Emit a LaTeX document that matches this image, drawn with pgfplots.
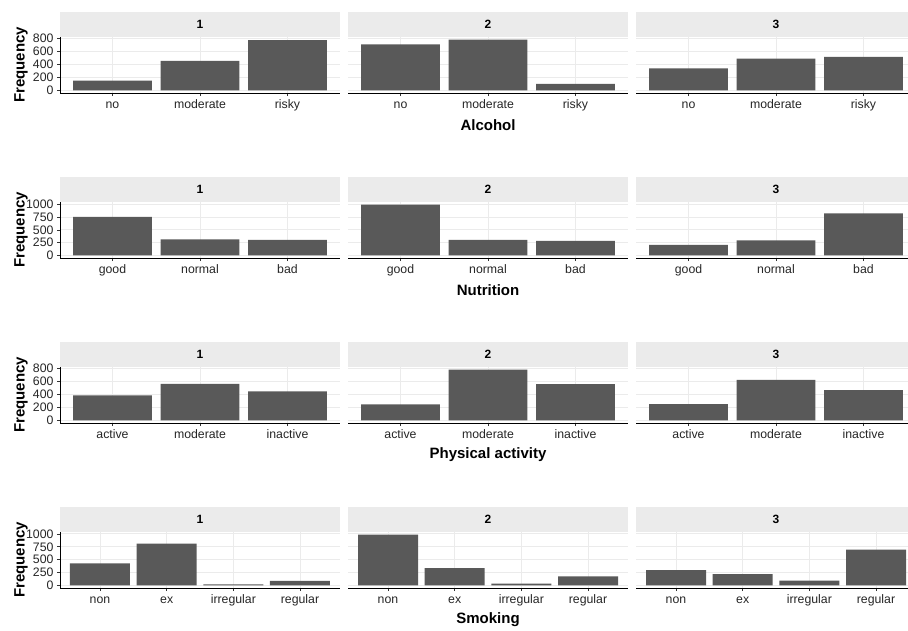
\documentclass[border=0pt]{standalone}
\usepackage{fontspec}
\setmainfont{Liberation Sans}
\usepackage{pgfplots}
\pgfplotsset{compat=1.18}
\definecolor{barcol}{HTML}{595959}
\definecolor{stripgray}{HTML}{EBEBEB}
\definecolor{gridgray}{HTML}{EBEBEB}
\pgfplotsset{
 panel/.style={scale only axis, width=280pt, height=56pt, anchor=north west,
   ybar, bar width=0.9, bar shift=0pt,
   axis x line*=bottom, axis y line*=left,
   axis line style={-, black, line width=0.9pt},
   xmajorgrids, ymajorgrids, major grid style={draw=gridgray, line width=0.9pt},
   tick align=outside, major tick length=3pt, tick style={black!80, line width=0.7pt},
   ticklabel style={font=\fontsize{12.3}{14}\selectfont, text=black!85},
   xticklabel style={text height=1.6ex, text depth=0.3ex, yshift=-0.5pt},
   /pgf/number format/assume math mode=true, /pgf/number format/1000 sep={},
 },
 noy/.style={y axis line style={draw=none}, yticklabels={}, ytick style={draw=none}},
 rowA/.style={ymin=-39, ymax=819, ytick={0,200,400,600,800}, xmin=0.4, xmax=3.6, xtick={1,2,3}, xticklabels={no,moderate,risky}},
 rowB/.style={ymin=-49.7, ymax=1043.7, ytick={0,250,500,750,1000}, xmin=0.4, xmax=3.6, xtick={1,2,3}, xticklabels={good,normal,bad}},
 rowC/.style={ymin=-39, ymax=819, ytick={0,200,400,600,800}, xmin=0.4, xmax=3.6, xtick={1,2,3}, xticklabels={active,moderate,inactive}},
 rowD/.style={ymin=-49.35, ymax=1036.35, ytick={0,250,500,750,1000}, xmin=0.4, xmax=4.6, xtick={1,2,3,4}, xticklabels={non,ex,irregular,regular}},
}
\newcommand{\panel}[5]{%
 \fill[stripgray] (#1pt,{-(#2-25)*1pt}) rectangle ({(#1+280)*1pt},-#2pt);
 \node[font=\fontsize{12}{14}\selectfont\bfseries] at ({(#1+140)*1pt},{-(#2-12.5)*1pt}) {#3};
 \begin{axis}[panel, at={(#1pt,-#2pt)}, #4]
 \addplot[fill=barcol, draw=none] coordinates {#5};
 \end{axis}
}
\begin{document}
\begin{tikzpicture}
\path[use as bounding box] (0pt,0pt) rectangle (908pt,-630pt);
\clip (0pt,0pt) rectangle (908pt,-630pt);
% Row 1: Alcohol
\panel{60}{37}{1}{rowA}{(1,151) (2,453) (3,770)}
\panel{348}{37}{2}{rowA,noy}{(1,705) (2,780) (3,101)}
\panel{636}{37}{3}{rowA,noy}{(1,337) (2,488) (3,513)}
% Row 2: Nutrition
\panel{60}{202}{1}{rowB}{(1,755) (2,315) (3,302)}
\panel{348}{202}{2}{rowB,noy}{(1,994) (2,302) (3,283)}
\panel{636}{202}{3}{rowB,noy}{(1,208) (2,296) (3,824)}
% Row 3: Physical activity
\panel{60}{367}{1}{rowC}{(1,385) (2,561) (3,445)}
\panel{348}{367}{2}{rowC,noy}{(1,246) (2,780) (3,555)}
\panel{636}{367}{3}{rowC,noy}{(1,250) (2,620) (3,465)}
% Row 4: Smoking
\panel{60}{532}{1}{rowD}{(1,430) (2,810) (3,20) (4,90)}
\panel{348}{532}{2}{rowD,noy}{(1,987) (2,335) (3,38) (4,177)}
\panel{636}{532}{3}{rowD,noy}{(1,298) (2,222) (3,95) (4,696)}
% titles
\foreach \t/\y in {Alcohol/125, Nutrition/290, Physical activity/455, Smoking/620}{
  \node[font=\fontsize{15}{17}\selectfont\bfseries] at (488pt,-\y pt) {\t};
}
\foreach \y in {65,230,395,560}{
  \node[font=\fontsize{15}{17}\selectfont\bfseries, rotate=90] at (21pt,-\y pt) {Frequency};
}
\end{tikzpicture}
\end{document}
